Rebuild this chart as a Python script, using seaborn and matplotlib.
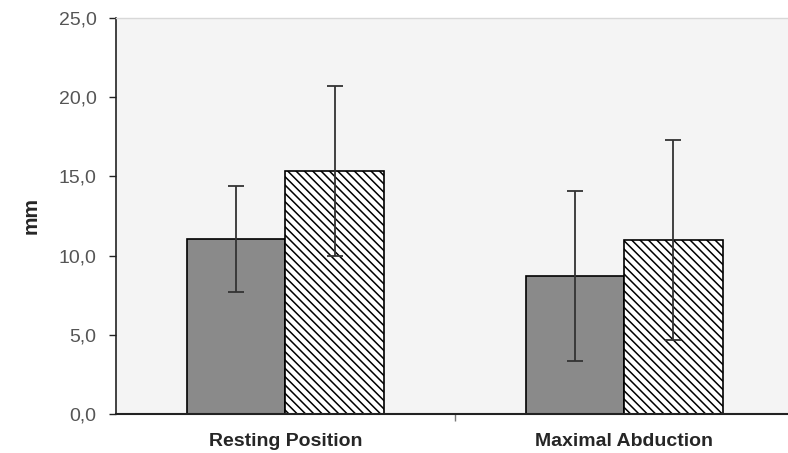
import matplotlib
matplotlib.use("Agg")
import matplotlib.pyplot as plt
import seaborn as sns
import pandas as pd
import numpy as np
from matplotlib.ticker import FuncFormatter

# ---- data ----
categories = ["Resting Position", "Maximal Abduction"]
groups = ["Group 1", "Group 2"]
means_group1 = [11.05, 8.7]
means_group2 = [15.35, 11.0]
sd_group1 = [3.35, 5.35]
sd_group2 = [5.35, 6.3]
y_ticks = [0, 5, 10, 15, 20, 25]

df = pd.DataFrame({
    "position": categories * 2,
    "group": [groups[0]] * 2 + [groups[1]] * 2,
    "mm": means_group1 + means_group2,
    "sd": sd_group1 + sd_group2,
})

sns.set_theme(style="white")
plt.rcParams["font.family"] = ["Liberation Sans", "DejaVu Sans"]
plt.rcParams["hatch.linewidth"] = 1.1
plt.rcParams["hatch.color"] = "black"

fig = plt.figure(figsize=(7.88, 4.53), dpi=100)
ax = fig.add_axes([116 / 788, 39 / 453, (788 - 116) / 788, 396 / 453])
ax.set_facecolor("#f4f4f4")

sns.barplot(data=df, x="position", y="mm", hue="group", order=categories,
            hue_order=groups, palette=["#8a8a8a", "white"], width=0.58,
            errorbar=None, edgecolor="black", linewidth=1.2, legend=False,
            saturation=1, ax=ax)

# hatch the second group, add error bars
for container, grp in zip(ax.containers, groups):
    sub = df[df["group"] == grp].set_index("position").loc[categories]
    for bar, (_, row) in zip(container, sub.iterrows()):
        if grp == groups[1]:
            bar.set_hatch("\\\\\\\\")
        xc = bar.get_x() + bar.get_width() / 2
        ax.errorbar(xc, row["mm"], yerr=row["sd"], fmt="none",
                    ecolor="#333333", elinewidth=1.3, capsize=6, capthick=1.3,
                    zorder=5)

ax.set_xlim(-0.5, 1.483)
ax.set_ylim(0, 25)
ax.set_yticks(y_ticks)
ax.yaxis.set_major_formatter(FuncFormatter(lambda v, p: f"{v:.1f}".replace(".", ",")))
ax.tick_params(axis="y", left=True, length=5, width=1, color="#222222",
               pad=9, labelsize=14, labelcolor="#555555")
ax.tick_params(axis="x", bottom=False, length=0, pad=14, labelsize=14)
for lbl in ax.get_xticklabels():
    lbl.set_fontweight("bold")
ax.set_xticks([0.5], minor=True)
ax.tick_params(axis="x", which="minor", bottom=True, length=5, width=1,
               color="#777777")

ax.set_xlabel("")
ax.set_ylabel("mm", fontsize=15, fontweight="bold", labelpad=13)

ax.spines["right"].set_visible(False)
ax.spines["top"].set_color("#d8d8d8")
ax.spines["top"].set_linewidth(1.0)
ax.spines["left"].set_color("#222222")
ax.spines["left"].set_linewidth(1.2)
ax.spines["bottom"].set_color("#222222")
ax.spines["bottom"].set_linewidth(1.5)

fig.savefig("out.png", dpi=100, facecolor="white")
